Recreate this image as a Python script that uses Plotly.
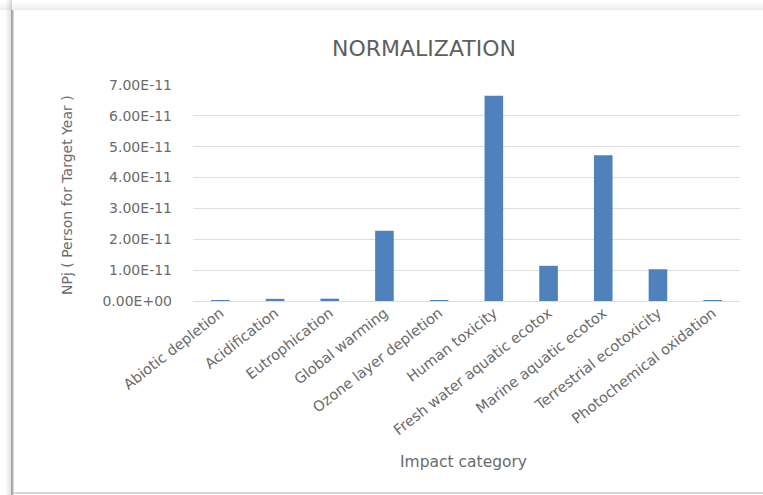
import plotly.graph_objects as go

# Normalized impact scores per category (NPj, person for target year)
categories = [
    "Abiotic depletion", "Acidification", "Eutrophication", "Global warming",
    "Ozone layer depletion", "Human toxicity", "Fresh water aquatic ecotox",
    "Marine aquatic ecotox", "Terrestrial ecotoxicity", "Photochemical oxidation",
]
npj_values = [
    2.0e-13, 7.0e-13, 7.5e-13, 2.28e-11,
    2.0e-13, 6.65e-11, 1.14e-11,
    4.72e-11, 1.03e-11, 2.5e-13,
]
y_tick_values = [0, 1e-11, 2e-11, 3e-11, 4e-11, 5e-11, 6e-11, 7e-11]
y_tick_labels = ["0.00E+00", "1.00E-11", "2.00E-11", "3.00E-11",
                 "4.00E-11", "5.00E-11", "6.00E-11", "7.00E-11"]

W, H = 763, 495
L, R, T, B = 193, 23, 85, 194
plot_w = W - L - R
plot_h = H - T - B

def px_x(px):
    return (px - L) / plot_w

def px_y(py):
    return (H - B - py) / plot_h

text_grey = "#6b6b6b"
font_family = "DejaVu Sans"

fig = go.Figure(
    go.Bar(
        x=categories,
        y=npj_values,
        marker=dict(color="#4F81BD", line=dict(width=0)),
    )
)

# Card frame: shadowed left edge, soft top edge and thin bottom line
shapes = []
for i, op in enumerate([0.05, 0.08, 0.12, 0.17, 0.22, 0.28]):
    x0 = 6 + i
    shapes.append(dict(type="rect", xref="paper", yref="paper",
                       x0=px_x(x0), x1=px_x(x0 + 1), y0=px_y(H), y1=px_y(0),
                       fillcolor=f"rgba(120,120,120,{op})", line=dict(width=0),
                       layer="below"))
shapes.append(dict(type="rect", xref="paper", yref="paper",
                   x0=px_x(11), x1=px_x(13.5), y0=px_y(H), y1=px_y(10),
                   fillcolor="rgba(150,150,150,0.75)", line=dict(width=0)))
for i, op in enumerate([0.03, 0.05, 0.07, 0.09, 0.11, 0.13, 0.15]):
    y0 = 3 + i
    shapes.append(dict(type="rect", xref="paper", yref="paper",
                       x0=px_x(0), x1=px_x(W), y0=px_y(y0 + 1), y1=px_y(y0),
                       fillcolor=f"rgba(140,140,140,{op})", line=dict(width=0),
                       layer="below"))
shapes.append(dict(type="rect", xref="paper", yref="paper",
                   x0=px_x(14), x1=px_x(W), y0=px_y(494), y1=px_y(492),
                   fillcolor="rgba(190,190,190,0.6)", line=dict(width=0)))

fig.update_layout(
    width=W, height=H,
    margin=dict(l=L, r=R, t=T, b=B, autoexpand=False),
    paper_bgcolor="white",
    plot_bgcolor="white",
    bargap=0.66,
    showlegend=False,
    font=dict(family=font_family, color=text_grey),
    title=dict(
        text="NORMALIZATION",
        x=px_x(424), xref="paper", xanchor="center",
        y=1 - 48 / H, yref="container", yanchor="middle",
        font=dict(size=22, color="#5f5f5f", family=font_family),
    ),
    xaxis=dict(
        tickangle=-38,
        tickfont=dict(size=14.5, color=text_grey),
        showgrid=False,
        showline=False,
        ticks="",
        ticklen=0,
        title=None,
    ),
    yaxis=dict(
        range=[0, 7e-11],
        tickvals=y_tick_values,
        ticktext=y_tick_labels,
        tickfont=dict(size=14, color=text_grey),
        showgrid=True,
        gridcolor="#dedede",
        gridwidth=1.3,
        zeroline=True,
        zerolinecolor="#dedede",
        zerolinewidth=1.3,
        showline=False,
        ticks="",
        ticklabelstandoff=20,
        title=None,
    ),
    shapes=shapes,
    annotations=[
        dict(text="NPj ( Person for Target Year )", textangle=-90,
             xref="paper", yref="paper", x=px_x(67), y=px_y(195),
             xanchor="center", yanchor="middle", showarrow=False,
             font=dict(size=14, color=text_grey, family=font_family)),
        dict(text="Impact category",
             xref="paper", yref="paper", x=px_x(463), y=px_y(462),
             xanchor="center", yanchor="middle", showarrow=False,
             font=dict(size=15.5, color=text_grey, family=font_family)),
    ],
)

fig.write_html("out.html")
